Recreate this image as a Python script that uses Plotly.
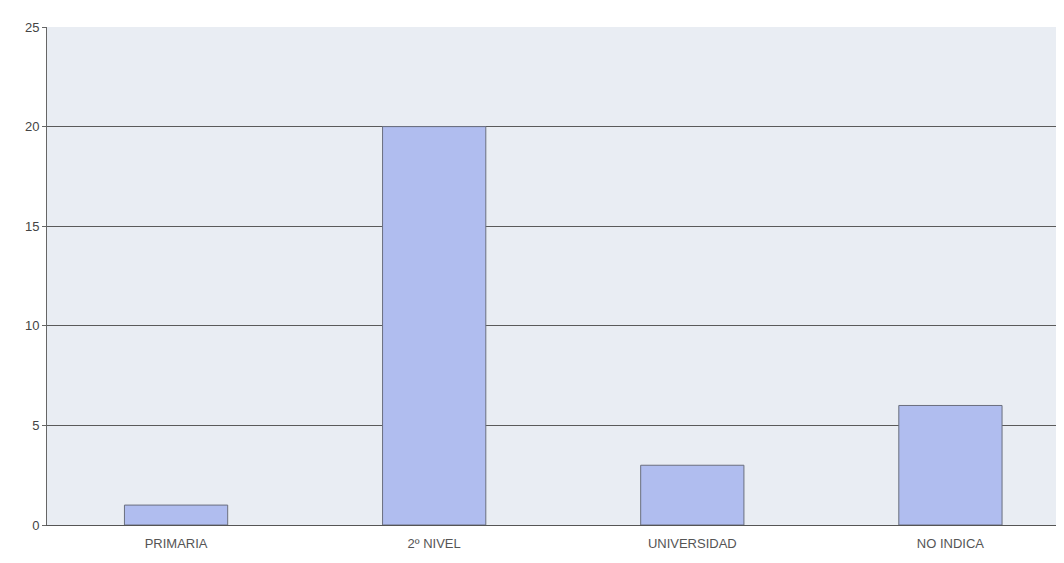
import plotly.graph_objects as go

categories = ["PRIMARIA", "2º NIVEL", "UNIVERSIDAD", "NO INDICA"]
values = [1, 20, 3, 6]
y_ticks = [0, 5, 10, 15, 20, 25]

fig = go.Figure()
fig.add_trace(go.Bar(
    x=categories, y=values, width=0.4,
    marker=dict(color="#b0bdef", line=dict(color="#6a6f7e", width=1)),
))
fig.update_layout(
    width=1056, height=547,
    margin=dict(l=39, r=0, t=19, b=30),
    paper_bgcolor="white", plot_bgcolor="#e9edf3",
    showlegend=False,
    font=dict(family="Liberation Sans, Arial", color="#555555"),
)
fig.update_xaxes(
    range=[-0.5, 3.44], showgrid=False, ticks="outside", ticklen=6, tickcolor="rgba(0,0,0,0)",
    tickfont=dict(size=13, color="#555555"),
    showline=True, linecolor="#555555", linewidth=1,
)
fig.update_yaxes(
    range=[0, 25], tickvals=y_ticks, showgrid=True, gridcolor="#5a5a5a", gridwidth=1,
    tickfont=dict(size=13, color="#444444"),
    showline=True, linecolor="#666666", linewidth=1, zeroline=False,
    ticks="outside", ticklen=4, tickcolor="#666666",
)
fig.write_html("out.html")
